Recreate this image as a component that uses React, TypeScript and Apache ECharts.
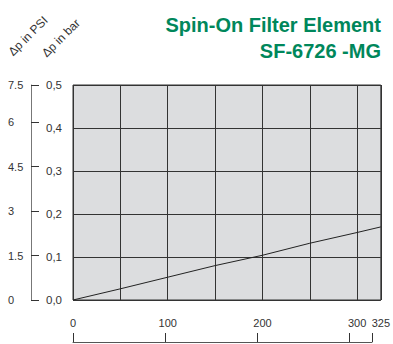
import React, { useEffect, useRef } from "react";
import * as echarts from "echarts";

const titleLines = ["Spin-On Filter Element", "SF-6726 -MG"];
const psiAxisName = "Δp in PSI";
const barAxisName = "Δp in bar";
const flowValues = [0, 50, 100, 150, 200, 250, 300, 325];
const dpBarValues = [0, 0.026, 0.053, 0.08, 0.104, 0.132, 0.157, 0.17];
const psiTickValues = [0, 1.5, 3, 4.5, 6, 7.25];
const psiTickLabels = ["0", "1.5", "3", "4.5", "6", "7.5"];
const flowTickValues = [0, 100, 200, 300, 325];
const flowTickLabels = ["0", "100", "200", "300", "325"];

const FONT = "'Liberation Sans', Arial, sans-serif";
const GREEN = "#00875b";
const TEXT = "#333";

export default function App() {
  const ref = useRef<HTMLDivElement>(null);
  useEffect(() => {
    if (!ref.current) return;
    const chart = echarts.init(ref.current, null, { renderer: "svg" });
    chart.setOption({
      animation: false,
      textStyle: { fontFamily: FONT },
      grid: [
        {
          left: 73, right: 12, top: 85, height: 215,
          show: true, backgroundColor: "#dcdddf", borderColor: "#333", borderWidth: 1,
        },
        { left: 73, right: 21, top: 300, bottom: 2 },
      ],
      xAxis: [
        {
          gridIndex: 0, type: "value", min: 0, max: 325, interval: 50,
          axisLine: { show: false }, axisTick: { show: false },
          axisLabel: {
            show: true, customValues: flowTickValues, margin: 17,
            formatter: (v: number) => flowTickLabels[flowTickValues.indexOf(v)] ?? "",
            color: TEXT, fontSize: 11, fontFamily: FONT,
          },
          splitLine: { show: true, lineStyle: { color: "#333", width: 1 } },
        },
        {
          gridIndex: 1, type: "value", min: 0, max: 325, position: "bottom",
          axisLine: { show: true, lineStyle: { color: "#555", width: 1 } },
          axisTick: { show: true, inside: true, length: 9, customValues: flowTickValues, lineStyle: { color: "#333" } },
          axisLabel: { show: false },
          splitLine: { show: false },
        },
      ],
      yAxis: [
        {
          gridIndex: 0, type: "value", min: 0, max: 0.5, interval: 0.1,
          axisLine: { show: false }, axisTick: { show: false },
          axisLabel: {
            margin: 11, color: TEXT, fontSize: 11.5, fontFamily: FONT,
            padding: [10, 0, 0, 0],
            formatter: (v: number) => v.toFixed(1).replace(".", ","),
          },
          splitLine: { show: true, lineStyle: { color: "#333", width: 1 } },
        },
        {
          gridIndex: 0, type: "value", min: 0, max: 7.25, position: "left", offset: 42,
          axisLine: { show: true, lineStyle: { color: "#777", width: 1 } },
          axisTick: { show: true, inside: true, length: 8, customValues: psiTickValues, lineStyle: { color: "#333" } },
          axisLabel: {
            show: true, customValues: psiTickValues, margin: 23, align: "left",
            color: TEXT, fontSize: 11, fontFamily: FONT,
            formatter: (v: number) => psiTickLabels[psiTickValues.indexOf(v)] ?? "",
          },
          splitLine: { show: false },
        },
        { gridIndex: 1, type: "value", show: false },
      ],
      series: [
        {
          type: "line", xAxisIndex: 0, yAxisIndex: 0,
          data: flowValues.map((x, i) => [x, dpBarValues[i]]),
          showSymbol: false, symbol: "none",
          lineStyle: { color: "#222", width: 1 },
        },
      ],
      graphic: [
        {
          type: "text", x: 381, y: 15,
          style: { text: titleLines[0], align: "right", verticalAlign: "top", fill: GREEN, font: `bold 20px ${FONT}` },
        },
        {
          type: "text", x: 381, y: 41,
          style: { text: titleLines[1], align: "right", verticalAlign: "top", fill: GREEN, font: `bold 20px ${FONT}` },
        },
        {
          type: "text", x: 28, y: 36, rotation: Math.PI / 4,
          style: { text: psiAxisName, align: "center", verticalAlign: "middle", fill: TEXT, font: `12px ${FONT}` },
        },
        {
          type: "text", x: 61, y: 38, rotation: Math.PI / 4,
          style: { text: barAxisName, align: "center", verticalAlign: "middle", fill: TEXT, font: `12px ${FONT}` },
        },
      ],
    });
    return () => chart.dispose();
  }, []);
  return <div ref={ref} style={{ width: 393, height: 344, position: "absolute", left: 0, top: 0 }} />;
}
